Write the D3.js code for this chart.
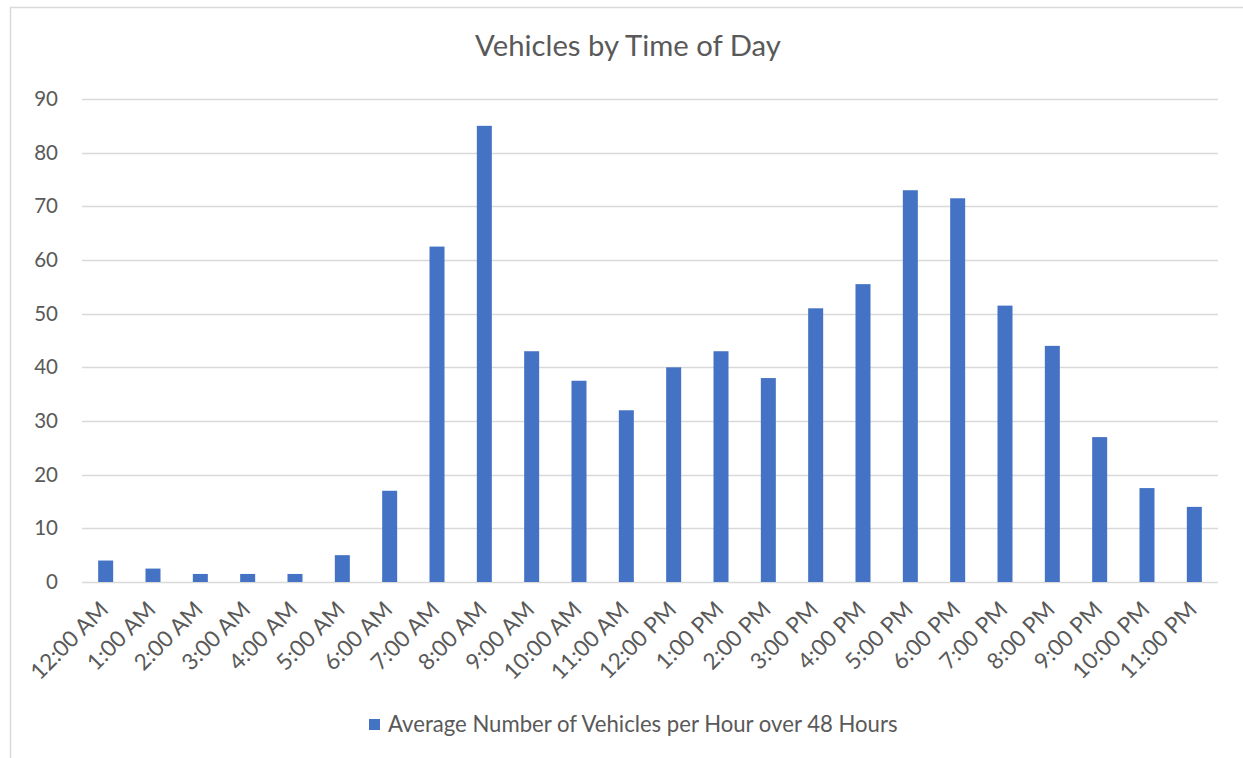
<!DOCTYPE html>
<html>
<head>
<meta charset="utf-8">
<script src="https://cdn.jsdelivr.net/npm/d3@7/dist/d3.min.js"></script>
<style>
  html, body { margin: 0; padding: 0; background: #ffffff; }
  svg { display: block; }
  text { font-family: Lato, "Open Sans", sans-serif; fill: #595959; }
</style>
</head>
<body>
<svg id="chart" width="1243" height="758"></svg>
<script>
const title = "Vehicles by Time of Day";
const seriesName = "Average Number of Vehicles per Hour over 48 Hours";
const categories = ["12:00 AM","1:00 AM","2:00 AM","3:00 AM","4:00 AM","5:00 AM","6:00 AM","7:00 AM","8:00 AM","9:00 AM","10:00 AM","11:00 AM","12:00 PM","1:00 PM","2:00 PM","3:00 PM","4:00 PM","5:00 PM","6:00 PM","7:00 PM","8:00 PM","9:00 PM","10:00 PM","11:00 PM"];
const values = [4, 2.5, 1.5, 1.5, 1.5, 5, 17, 62.5, 85, 43, 37.5, 32, 40, 43, 38, 51, 55.5, 73, 71.5, 51.5, 44, 27, 17.5, 14];
const yTicks = [0, 10, 20, 30, 40, 50, 60, 70, 80, 90];

const svg = d3.select("#chart");
const W = 1243, H = 758;
const plot = { left: 82, right: 1218, top: 99, bottom: 582 };
const barColor = "#4472C4";
const gridColor = "#d9d9d9";

// outer chart border (extends past the right/bottom edge like the reference crop)
svg.append("rect")
  .attr("x", 10.5).attr("y", 7.5)
  .attr("width", W + 20).attr("height", H + 20)
  .attr("fill", "none").attr("stroke", gridColor).attr("stroke-width", 1.5);

const x = d3.scaleBand().domain(categories).range([plot.left, plot.right]).paddingInner(0.683).paddingOuter(0.3415);
const y = d3.scaleLinear().domain([0, 90]).range([plot.bottom, plot.top]);

// gridlines
svg.append("g").selectAll("line").data(yTicks).join("line")
  .attr("x1", plot.left).attr("x2", plot.right)
  .attr("y1", d => Math.round(y(d)) + 0.5).attr("y2", d => Math.round(y(d)) + 0.5)
  .attr("stroke", gridColor).attr("stroke-width", 1.5);

// y axis labels
const yAxis = d3.axisLeft(y).tickValues(yTicks).tickSize(0).tickPadding(0);
const gy = svg.append("g").attr("transform", `translate(58,0)`).call(yAxis);
gy.select(".domain").remove();
gy.selectAll("text").attr("font-family", "Lato, sans-serif").attr("font-size", 20.5).attr("fill", "#595959");

// bars
svg.append("g").selectAll("rect").data(values).join("rect")
  .attr("x", (d, i) => x(categories[i]))
  .attr("width", x.bandwidth())
  .attr("y", d => y(d))
  .attr("height", d => y(0) - y(d))
  .attr("fill", barColor);

// x axis labels
const xAxis = d3.axisBottom(x).tickSize(0).tickPadding(0);
const gx = svg.append("g").attr("transform", `translate(0,${plot.bottom})`).call(xAxis);
gx.select(".domain").remove();
gx.selectAll(".tick text")
  .attr("font-family", "Lato, sans-serif").attr("font-size", 22.5).attr("fill", "#595959")
  .attr("text-anchor", "end")
  .attr("x", 0).attr("y", 0).attr("dy", 0)
  .attr("transform", "translate(4,29) rotate(-45)");

// title (fit width to reference)
const t = svg.append("text").attr("x", 628).attr("y", 56)
  .attr("text-anchor", "middle").attr("font-size", 100).text(title);
const tw = t.node().getComputedTextLength();
t.attr("font-size", 100 * 306 / tw);

// legend
svg.append("rect").attr("x", 369).attr("y", 719).attr("width", 11).attr("height", 11).attr("fill", barColor);
const lt = svg.append("text").attr("x", 388).attr("y", 732).attr("font-size", 100).text(seriesName);
const lw = lt.node().getComputedTextLength();
lt.attr("font-size", 100 * 510 / lw);
</script>
</body>
</html>
